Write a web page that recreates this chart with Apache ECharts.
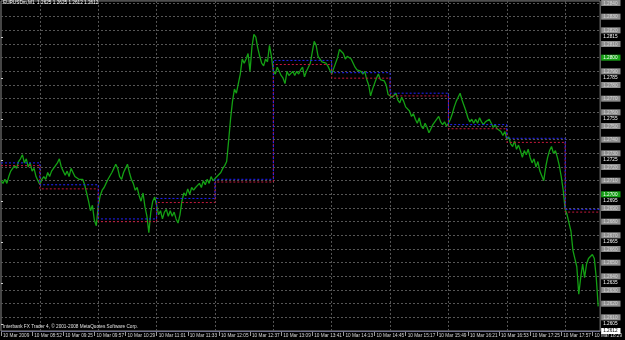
<!DOCTYPE html>
<html>
<head>
<meta charset="utf-8">
<script src="https://cdn.jsdelivr.net/npm/echarts@6/dist/echarts.min.js"></script>
<style>
html,body{margin:0;padding:0;background:#000;}
#chart{width:625px;height:340px;}
</style>
</head>
<body>
<div id="chart"></div>
<script>
// ---- data ----
const chartTitle = 'EURUSDm,M1  1.2625 1.2625 1.2612 1.2612';
const copyrightText = 'Interbank FX Trader 4, \u00A9 2001-2008 MetaQuotes Software Corp.';

// x axis: minutes since 08:20 on 10 Mar 2009
const tickMinutes = [0,32,64,96,128,160,192,224,256,288,320,352,384,416,448,480,512,544,576,608];
const tickLabels = ['10 Mar 2009','10 Mar 08:52','10 Mar 09:25','10 Mar 09:57','10 Mar 10:29','10 Mar 11:01',
  '10 Mar 11:33','10 Mar 12:05','10 Mar 12:37','10 Mar 13:09','10 Mar 13:41','10 Mar 14:13','10 Mar 14:45',
  '10 Mar 15:17','10 Mar 15:49','10 Mar 16:21','10 Mar 16:53','10 Mar 17:25','10 Mar 17:57','10 Mar 18:29'];
const hourMinutes = [40,100,160,220,280,340,400,460,520,580];

// y axis levels
const gridLevels = [1.2610,1.2620,1.2630,1.2640,1.2650,1.2660,1.2670,1.2680,1.2690,1.2700,1.2710,1.2720,
  1.2730,1.2740,1.2750,1.2760,1.2770,1.2780,1.2790,1.2800,1.2810,1.2820,1.2830,1.2840];
const scaleLabels = [1.2605,1.2635,1.2665,1.2695,1.2725,1.2755,1.2785,1.2815];
const highlightLevels = [1.2700,1.2800];

// close price sampled every 2 minutes from 08:20
const sampleStepMinutes = 2;
const closePrices = [
1.2710,1.2708,1.2711,1.2708,1.2713,1.2717,1.2716,1.2721,1.2719,1.2724,1.2726,1.2729,1.2723,1.2726,1.2720,1.2723,1.2717,1.2719,1.2713,1.2710,
1.2707,1.2711,1.2713,1.2711,1.2716,1.2713,1.2717,1.2716,1.2721,1.2723,1.2726,1.2720,1.2717,1.2714,1.2717,1.2713,1.2719,1.2716,1.2713,1.2714,
1.2711,1.2710,1.2711,1.2707,1.2708,1.2695,1.2688,1.2692,1.2681,1.2677,1.2692,1.2699,1.2703,1.2705,1.2708,1.2711,1.2711,1.2716,1.2719,1.2722,1.2719,
1.2713,1.2711,1.2716,1.2719,1.2722,1.2716,1.2711,1.2708,1.2703,1.2705,1.2699,1.2695,1.2701,1.2691,1.2684,1.2672,1.2687,1.2695,1.2698,1.2692,
1.2685,1.2688,1.2682,1.2687,1.2689,1.2684,1.2688,1.2684,1.2687,1.2682,1.2679,1.2685,1.2695,1.2701,1.2699,1.2704,1.2700,1.2705,1.2703,1.2705,
1.2704,1.2708,1.2705,1.2710,1.2707,1.2711,1.2708,1.2713,1.2710,1.2711,1.2713,1.2713,1.2716,1.2719,1.2721,1.2724,1.2739,1.2755,1.2768,1.2777,1.2774,
1.2775,1.2788,1.2799,1.2796,1.2799,1.2803,1.2790,1.2808,1.2817,1.2815,1.2807,1.2801,1.2796,1.2794,1.2799,1.2797,1.2809,1.2801,1.2790,1.2788,
1.2793,1.2790,1.2787,1.2785,1.2781,1.2790,1.2787,1.2788,1.2790,1.2787,1.2790,1.2788,1.2791,1.2793,1.2786,1.2790,1.2793,1.2796,1.2804,1.2812,
1.2809,1.2801,1.2799,1.2797,1.2796,1.2796,1.2794,1.2791,1.2788,1.2792,1.2796,1.2800,1.2806,1.2807,1.2803,1.2799,1.2801,1.2801,1.2799,1.2799,1.2793,
1.2791,1.2790,1.2790,1.2788,1.2790,1.2784,1.2780,1.2772,1.2777,1.2781,1.2785,1.2788,1.2784,1.2785,1.2783,1.2780,1.2773,1.2772,1.2771,1.2772,
1.2774,1.2769,1.2767,1.2771,1.2768,1.2764,1.2765,1.2761,1.2757,1.2759,1.2755,1.2752,1.2756,1.2750,1.2748,1.2752,1.2749,1.2745,1.2748,1.2751,1.2751,
1.2755,1.2757,1.2753,1.2751,1.2753,1.2750,1.2752,1.2755,1.2759,1.2764,1.2768,1.2771,1.2774,1.2769,1.2765,1.2761,1.2756,1.2753,1.2755,1.2752,
1.2755,1.2752,1.2756,1.2753,1.2751,1.2753,1.2752,1.2755,1.2752,1.2749,1.2751,1.2748,1.2749,1.2746,1.2743,1.2746,1.2740,1.2742,1.2737,1.2735,
1.2739,1.2733,1.2736,1.2732,1.2727,1.2732,1.2729,1.2733,1.2727,1.2723,1.2726,1.2720,1.2724,1.2717,1.2717,1.2710,1.2720,1.2727,1.2732,1.2735,1.2730,
1.2732,1.2727,1.2721,1.2713,1.2703,1.2689,1.2685,1.2679,1.2673,1.2659,1.2653,1.2647,1.2627,1.2639,1.2649,1.2639,1.2649,1.2653,1.2652,1.2656,
1.2653,1.2639,1.2618
];

// hourly open (bid / ask) step levels
const hourStart   = [0,40,100,160,220,280,340,400,460,520,580,616];
const hourOpenBid = [1.2721,1.2704,1.2680,1.2694,1.2709,1.2795,1.2785,1.2772,1.2748,1.2738,1.2687,1.2687];
const hourOpenAsk = [1.2723,1.2707,1.2682,1.2697,1.2711,1.2798,1.2789,1.2774,1.2751,1.2741,1.2689,1.2689];

const bidPrice = 1.2612;
const askPrice = 1.2614;

// ---- chart ----
const FONT = 'Liberation Sans';
const FS = 4.7;
const X_MIN = 0, X_MAX = 616;
const Y_MIN = 1.2600, Y_MAX = 1.28415;

const closeData = closePrices.map((p, i) => [i * sampleStepMinutes, p]);
const bidSteps = hourStart.map((m, i) => [m, hourOpenBid[i]]);
const askSteps = hourStart.map((m, i) => [m, hourOpenAsk[i]]);

const chart = echarts.init(document.getElementById('chart'), null, {renderer: 'canvas'});
chart.setOption({
  backgroundColor: '#000000',
  animation: false,
  textStyle: {fontFamily: FONT},
  title: [
    {text: chartTitle, left: 3, top: 0, padding: 0,
     textStyle: {color: '#ffffff', fontSize: FS, fontWeight: 'normal', fontFamily: FONT}},
    {text: copyrightText, left: 3, top: 324, padding: 0,
     textStyle: {color: '#e0e0e0', fontSize: FS, fontWeight: 'normal', fontFamily: FONT}}
  ],
  grid: {left: 1, right: 19, top: -1, bottom: 9, containLabel: false,
         show: true, borderColor: '#8a8a8a', borderWidth: 1, backgroundColor: 'transparent'},
  xAxis: [
    {type: 'value', min: X_MIN, max: X_MAX, position: 'bottom',
     axisLine: {show: false},
     axisTick: {show: true, customValues: tickMinutes, length: 5, lineStyle: {color: '#9a9a9a', width: 1}},
     axisLabel: {show: true, customValues: tickMinutes, align: 'left', margin: 2, padding: [0,0,0,2],
                 color: '#d8d8d8', fontSize: FS, fontFamily: FONT,
                 formatter: v => tickLabels[Math.round(v / 32)] || ''},
     splitLine: {show: false}},
    {type: 'value', min: X_MIN, max: X_MAX, position: 'bottom',
     axisLine: {show: false}, axisLabel: {show: false},
     axisTick: {show: false, customValues: hourMinutes},
     splitLine: {show: true, lineStyle: {color: '#565656', type: [2, 2], width: 1}}}
  ],
  yAxis: [
    {type: 'value', min: Y_MIN, max: Y_MAX, position: 'right', scale: true,
     axisLine: {show: false},
     axisTick: {show: true, customValues: scaleLabels, length: 2, lineStyle: {color: '#cfcfcf'}},
     axisLabel: {show: true, customValues: scaleLabels, margin: 3, color: '#ffffff',
                 fontSize: FS, fontFamily: FONT, formatter: v => v.toFixed(4)},
     splitLine: {show: false}},
    {type: 'value', min: Y_MIN, max: Y_MAX, position: 'right', scale: true,
     axisLine: {show: false},
     axisTick: {show: false, customValues: gridLevels},
     axisLabel: {show: true, customValues: gridLevels, margin: 1, fontSize: FS, fontFamily: FONT,
                 formatter: v => {
                   const s = v.toFixed(4);
                   const hi = highlightLevels.some(h => Math.abs(h - v) < 1e-7);
                   return (hi ? '{g|' : '{b|') + s + '}';
                 },
                 rich: {
                   b: {backgroundColor: '#8e8e8e', color: '#d6d6d6', fontSize: FS, fontFamily: FONT, padding: [1,3,0,2]},
                   g: {backgroundColor: '#16a016', color: '#ffffff', fontSize: FS, fontFamily: FONT, padding: [1,3,0,2]}
                 }},
     splitLine: {show: true, lineStyle: {color: '#565656', type: [2, 2], width: 1}}}
  ],
  series: [
    {name: 'Close', type: 'line', xAxisIndex: 0, yAxisIndex: 0, data: closeData,
     showSymbol: false, symbol: 'none', clip: true, z: 3,
     lineStyle: {color: '#14a014', width: 1.3},
     markLine: {
       silent: true, symbol: ['none', 'none'], z: 10, animation: false,
       lineStyle: {type: 'solid', color: '#6e6e8c', width: 1},
       data: [
         {yAxis: askPrice, label: {show: false}},
         {yAxis: bidPrice, label: {show: true, position: 'end', distance: 1,
           formatter: () => bidPrice.toFixed(4), color: '#000000', backgroundColor: '#ffffff',
           fontSize: FS, fontFamily: FONT, padding: [1,3,0,2]}}
       ]
     }},
    {name: 'Open Bid', type: 'line', xAxisIndex: 0, yAxisIndex: 0, data: bidSteps, step: 'end',
     showSymbol: false, symbol: 'none', z: 4,
     lineStyle: {color: '#c4183c', width: 1, type: [2, 2]}},
    {name: 'Open Ask', type: 'line', xAxisIndex: 0, yAxisIndex: 0, data: askSteps, step: 'end',
     showSymbol: false, symbol: 'none', z: 4,
     lineStyle: {color: '#2222ff', width: 1, type: [2, 2]}}
  ]
});
</script>
</body>
</html>
